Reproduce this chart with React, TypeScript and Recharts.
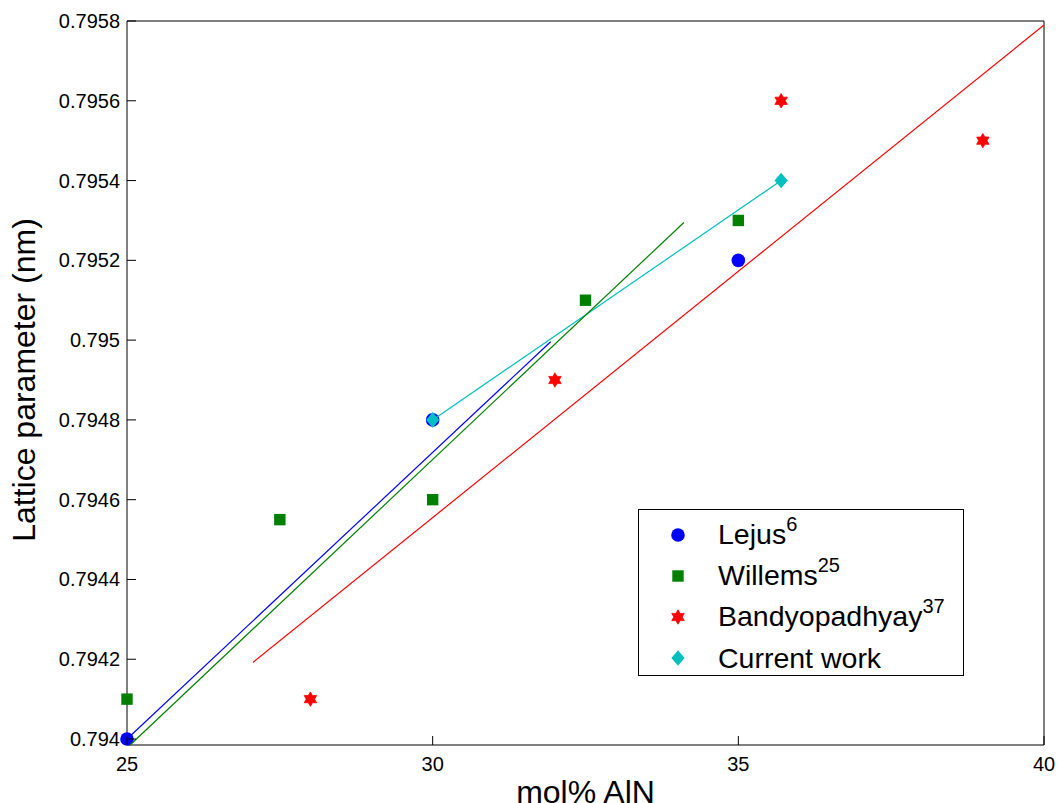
import React from 'react';
import { ScatterChart, Scatter, XAxis, YAxis } from 'recharts';

// measured points
const lejus = [
  { x: 25, y: 0.794 },
  { x: 30, y: 0.7948 },
  { x: 35, y: 0.7952 },
];
const willems = [
  { x: 25, y: 0.7941 },
  { x: 27.5, y: 0.79455 },
  { x: 30, y: 0.7946 },
  { x: 32.5, y: 0.7951 },
  { x: 35, y: 0.7953 },
];
const bandyopadhyay = [
  { x: 28, y: 0.7941 },
  { x: 32, y: 0.7949 },
  { x: 35.7, y: 0.7956 },
  { x: 39, y: 0.7955 },
];
const currentWork = [
  { x: 30, y: 0.7948 },
  { x: 35.7, y: 0.7954 },
];

// fitted lines (end points)
const lejusFit = [
  { x: 25, y: 0.794 },
  { x: 31.93, y: 0.794996 },
];
const willemsFit = [
  { x: 25.05, y: 0.793985 },
  { x: 34.11, y: 0.795295 },
];
const bandyFit = [
  { x: 27.06, y: 0.794192 },
  { x: 40, y: 0.79579 },
];

const xTicks = [25, 30, 35, 40];
const yTicks = [0.794, 0.7942, 0.7944, 0.7946, 0.7948, 0.795, 0.7952, 0.7954, 0.7956, 0.7958];

const FONT = '"Liberation Sans", Arial, Helvetica, sans-serif';
const BLUE = '#0000ff';
const GREEN = '#008000';
const RED = '#ff0000';
const CYAN = '#00bfbf';
const TICK_LEN = 9;

const fmtY = (v: number) => String(Number(v.toFixed(4)));

const Dot = ({ cx, cy, fill = BLUE }: any) => <circle cx={cx} cy={cy} r={6.8} fill={fill} />;
const Square = ({ cx, cy, fill = GREEN }: any) => (
  <rect x={cx - 5.7} y={cy - 5.7} width={11.4} height={11.4} fill={fill} />
);
const hexPath = (cx: number, cy: number, R: number) => {
  const r = R / Math.sqrt(3);
  const pts: string[] = [];
  for (let k = 0; k < 12; k++) {
    const a = ((-90 + k * 30) * Math.PI) / 180;
    const rad = k % 2 === 0 ? R : r;
    pts.push(`${cx + rad * Math.cos(a)},${cy + rad * Math.sin(a)}`);
  }
  return `M${pts.join('L')}Z`;
};
const Hexagram = ({ cx, cy, fill = RED }: any) => (
  <path d={hexPath(cx, cy, 7.2)} fill={fill} stroke={fill} strokeWidth={0.8} />
);
const Diamond = ({ cx, cy, fill = CYAN }: any) => (
  <path d={`M${cx},${cy - 7.8}L${cx + 6.6},${cy}L${cx},${cy + 7.8}L${cx - 6.6},${cy}Z`} fill={fill} />
);
const NoShape = () => <g />;

const LeftTick = ({ x, y, payload }: any) => (
  <g>
    <line x1={x + 7} x2={x + 7 + TICK_LEN} y1={y} y2={y} stroke="#000" />
    <text x={x} y={y + 7} textAnchor="end" fontSize={20} fontFamily={FONT} fill="#000">
      {fmtY(payload.value)}
    </text>
  </g>
);
const RightTick = ({ x, y }: any) => (
  <line x1={x} x2={x - TICK_LEN} y1={y} y2={y} stroke="#000" />
);
const BottomTick = ({ x, y, payload }: any) => (
  <g>
    <line x1={x} x2={x} y1={y} y2={y - TICK_LEN} stroke="#000" />
    <text x={x} y={y + 26} textAnchor="middle" fontSize={20} fontFamily={FONT} fill="#000">
      {payload.value}
    </text>
  </g>
);
const TopTick = ({ x, y }: any) => (
  <line x1={x} x2={x} y1={y} y2={y + TICK_LEN} stroke="#000" />
);

const legendItems = [
  { name: 'Lejus', sup: '6', kind: 'dot' },
  { name: 'Willems', sup: '25', kind: 'square' },
  { name: 'Bandyopadhyay', sup: '37', kind: 'hex' },
  { name: 'Current work', sup: '', kind: 'diamond' },
];

const LegendIcon = ({ kind }: { kind: string }) => {
  const c = 10;
  return (
    <svg width={20} height={20} style={{ display: 'block' }}>
      {kind === 'dot' && <Dot cx={c} cy={c} />}
      {kind === 'square' && <Square cx={c} cy={c} />}
      {kind === 'hex' && <Hexagram cx={c} cy={c} />}
      {kind === 'diamond' && <Diamond cx={c} cy={c} />}
    </svg>
  );
};

export default function App() {
  return (
    <div style={{ position: 'absolute', left: 0, top: 0, width: 1059, height: 803, background: '#fff', overflow: 'hidden' }}>
      <ScatterChart width={1059} height={803} margin={{ top: 0, right: 0, bottom: 0, left: 0 }}>
        <XAxis
          xAxisId="b"
          type="number"
          dataKey="x"
          domain={[25, 40]}
          ticks={xTicks}
          height={58}
          tickSize={0}
          tickMargin={0}
          tickLine={false}
          axisLine={{ stroke: '#000' }}
          tick={<BottomTick />}
          label={{
            content: ({ viewBox }: any) => (
              <text
                x={viewBox.x + viewBox.width / 2}
                y={viewBox.y + 58}
                textAnchor="middle"
                fontSize={32}
                fontFamily={FONT}
                fill="#000"
              >
                mol% AlN
              </text>
            ),
          }}
        />
        <XAxis
          xAxisId="t"
          orientation="top"
          type="number"
          dataKey="x"
          domain={[25, 40]}
          ticks={xTicks}
          height={21}
          tickSize={0}
          tickMargin={0}
          tickLine={false}
          axisLine={{ stroke: '#000' }}
          tick={<TopTick />}
        />
        <YAxis
          yAxisId="l"
          type="number"
          dataKey="y"
          domain={[0.794, 0.7958]}
          ticks={yTicks}
          width={127}
          tickSize={0}
          tickMargin={7}
          tickLine={false}
          axisLine={{ stroke: '#000' }}
          tick={<LeftTick />}
          label={{
            content: ({ viewBox }: any) => {
              const cx = viewBox.x + 35;
              const cy = viewBox.y + viewBox.height / 2 - 3;
              return (
                <text
                  x={cx}
                  y={cy}
                  transform={`rotate(-90 ${cx} ${cy})`}
                  textAnchor="middle"
                  fontSize={32}
                  fontFamily={FONT}
                  fill="#000"
                >
                  Lattice parameter (nm)
                </text>
              );
            },
          }}
        />
        <YAxis
          yAxisId="r"
          orientation="right"
          type="number"
          dataKey="y"
          domain={[0.794, 0.7958]}
          ticks={yTicks}
          width={15}
          tickSize={0}
          tickMargin={0}
          tickLine={false}
          axisLine={{ stroke: '#000' }}
          tick={<RightTick />}
        />

        <Scatter name="Lejus" data={lejus} xAxisId="b" yAxisId="l" shape={<Dot />} isAnimationActive={false} />
        <Scatter name="Willems" data={willems} xAxisId="b" yAxisId="l" shape={<Square />} isAnimationActive={false} />
        <Scatter name="Bandyopadhyay" data={bandyopadhyay} xAxisId="b" yAxisId="l" shape={<Hexagram />} isAnimationActive={false} />
        <Scatter
          name="Current work"
          data={currentWork}
          xAxisId="b"
          yAxisId="l"
          shape={<Diamond />}
          line={{ stroke: CYAN, strokeWidth: 1.2 }}
          lineType="joint"
          isAnimationActive={false}
        />
        <Scatter data={lejusFit} xAxisId="b" yAxisId="l" shape={<NoShape />} line={{ stroke: BLUE, strokeWidth: 1.2 }} lineType="joint" isAnimationActive={false} />
        <Scatter data={willemsFit} xAxisId="b" yAxisId="l" shape={<NoShape />} line={{ stroke: GREEN, strokeWidth: 1.2 }} lineType="joint" isAnimationActive={false} />
        <Scatter data={bandyFit} xAxisId="b" yAxisId="l" shape={<NoShape />} line={{ stroke: RED, strokeWidth: 1.2 }} lineType="joint" isAnimationActive={false} />
      </ScatterChart>

      <div
        style={{
          position: 'absolute',
          left: 638,
          top: 509,
          width: 326,
          height: 167,
          border: '1px solid #000',
          background: '#fff',
          fontFamily: FONT,
          boxSizing: 'border-box',
        }}
      >
        {legendItems.map((it, i) => (
          <div
            key={it.name}
            style={{ position: 'absolute', left: 0, top: 5 + i * 41, height: 40, display: 'flex', alignItems: 'center' }}
          >
            <div style={{ width: 30, marginLeft: 29 }}>
              <LegendIcon kind={it.kind} />
            </div>
            <div style={{ marginLeft: 20, fontSize: 28.5, color: '#000', lineHeight: '40px', whiteSpace: 'nowrap' }}>
              {it.name}
              {it.sup && (
                <sup style={{ fontSize: 20, verticalAlign: 'baseline', position: 'relative', top: -13 }}>{it.sup}</sup>
              )}
            </div>
          </div>
        ))}
      </div>
    </div>
  );
}
